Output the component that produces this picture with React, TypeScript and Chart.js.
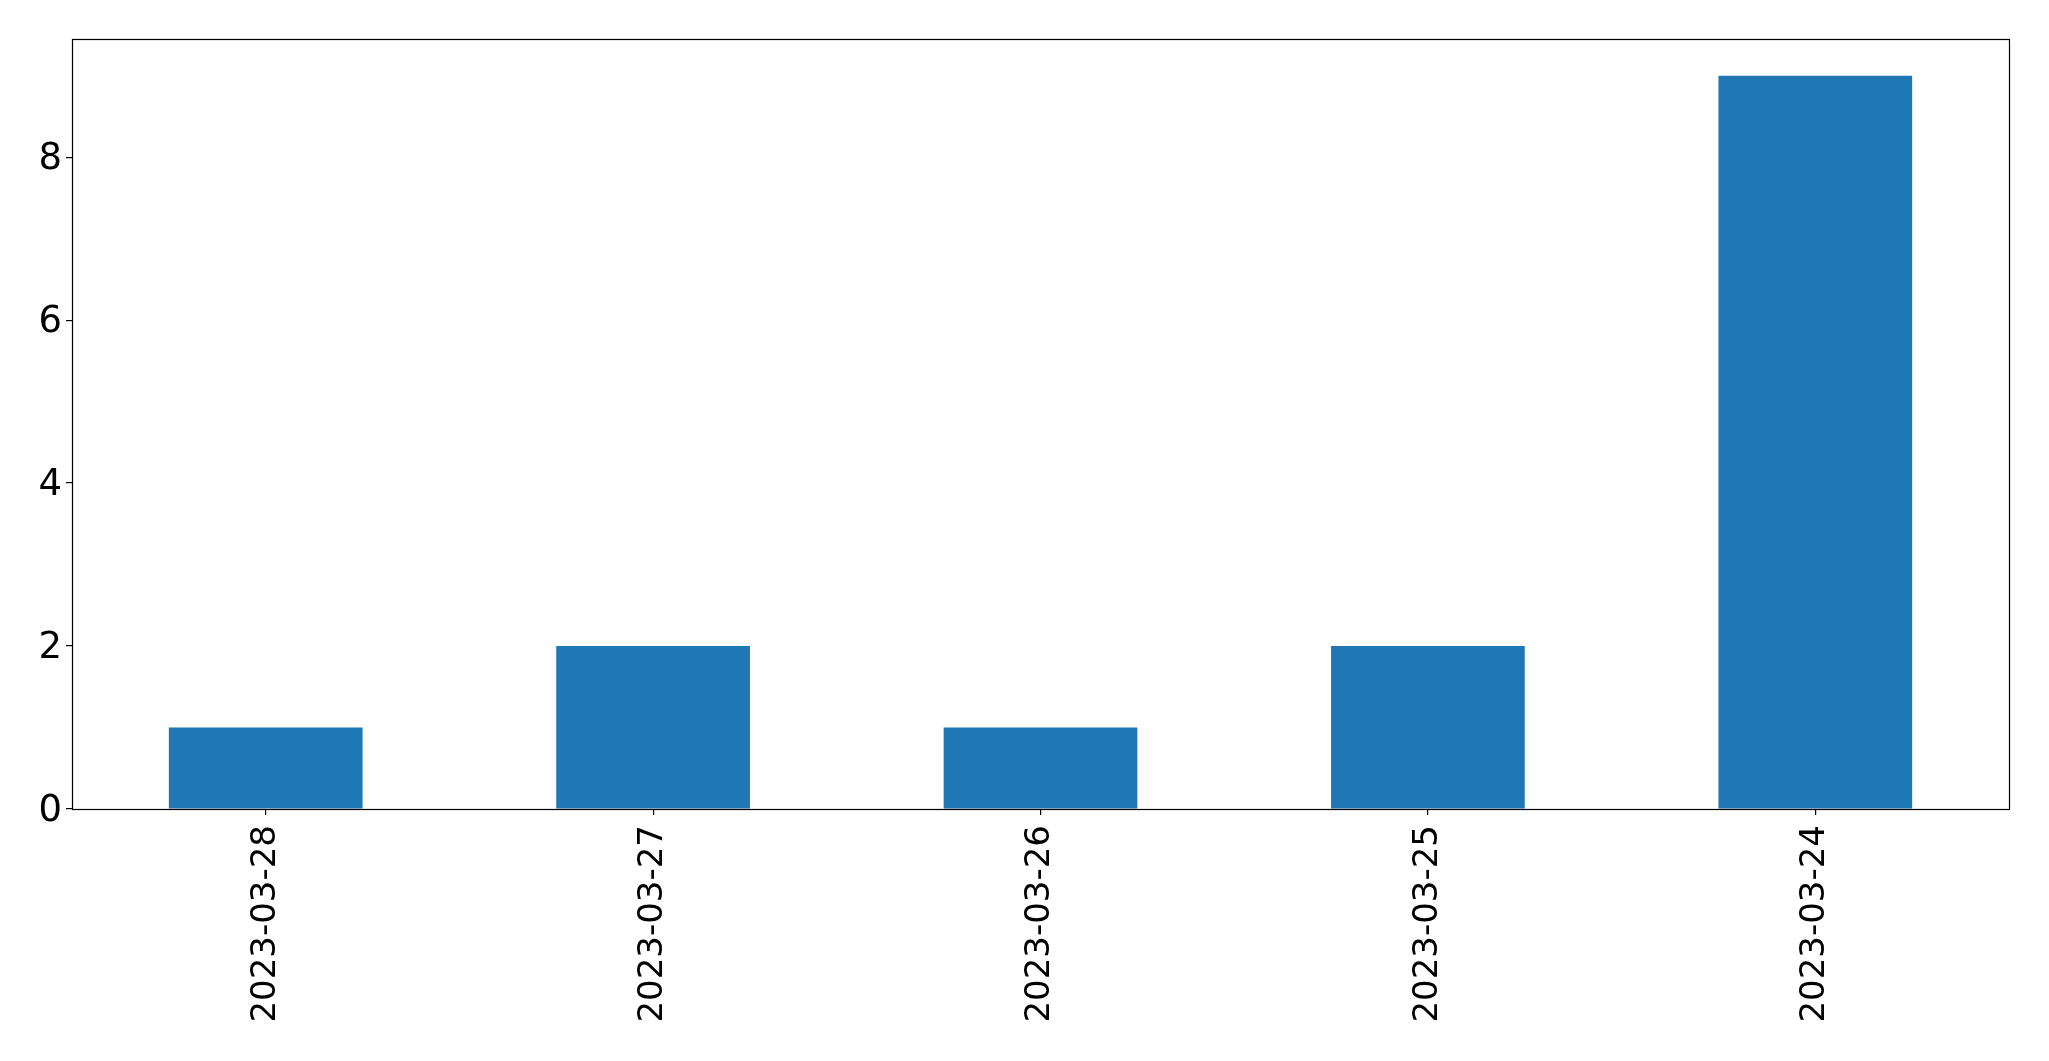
import React, { useEffect, useRef } from "react";
import { Chart, registerables } from "chart.js";

Chart.register(...registerables);

const categories = ["2023-03-28", "2023-03-27", "2023-03-26", "2023-03-25", "2023-03-24"];
const counts = [1, 2, 1, 2, 9];
const yMax = 9.45;
const yStep = 2;
const barColor = "#1f77b4";
const fontFamily = "'DejaVu Sans', sans-serif";

const framePlugin = {
  id: "frame",
  afterDatasetsDraw(chart: any) {
    const { ctx, chartArea } = chart;
    ctx.save();
    ctx.strokeStyle = "#000";
    ctx.lineWidth = 1.2;
    ctx.strokeRect(
      Math.round(chartArea.left) + 0.5,
      Math.round(chartArea.top) + 0.5,
      Math.round(chartArea.right - chartArea.left),
      Math.round(chartArea.bottom - chartArea.top)
    );
    ctx.restore();
  },
};

export default function App() {
  const ref = useRef<HTMLCanvasElement | null>(null);
  useEffect(() => {
    document.body.style.margin = "0";
    const canvas = ref.current;
    if (!canvas) return;
    const chart = new Chart(canvas, {
      type: "bar",
      data: {
        labels: categories,
        datasets: [
          {
            data: counts,
            backgroundColor: barColor,
            borderWidth: 0,
            barPercentage: 0.5,
            categoryPercentage: 1,
          },
        ],
      },
      options: {
        responsive: false,
        animation: false,
        devicePixelRatio: 1,
        layout: { padding: { top: 39, right: 40, left: 0, bottom: 0 } },
        plugins: { legend: { display: false }, tooltip: { enabled: false } },
        scales: {
          x: {
            type: "category",
            offset: true,
            border: { display: false },
            grid: {
              display: true,
              drawOnChartArea: false,
              drawTicks: true,
              tickLength: 6,
              color: "#000",
              lineWidth: 1.2,
              offset: false,
            },
            ticks: {
              color: "#000",
              font: { family: fontFamily, size: 34 },
              minRotation: 90,
              maxRotation: 90,
              padding: 10,
              autoSkip: false,
            },
            afterFit(scale: any) {
              scale.height = 252;
            },
          },
          y: {
            type: "linear",
            min: 0,
            max: yMax,
            border: { display: false },
            grid: {
              display: true,
              drawOnChartArea: false,
              drawTicks: true,
              tickLength: 6,
              color: "#000",
              lineWidth: 1.2,
            },
            ticks: {
              stepSize: yStep,
              includeBounds: false,
              color: "#000",
              font: { family: fontFamily, size: 37 },
              padding: 4,
              labelOffset: 2,
            },
            afterFit(scale: any) {
              scale.width = 72;
            },
          },
        },
      },
      plugins: [framePlugin],
    } as any);
    return () => chart.destroy();
  }, []);
  return (
    <canvas ref={ref} width={2049} height={1061} style={{ display: "block", width: 2049, height: 1061 }} />
  );
}
